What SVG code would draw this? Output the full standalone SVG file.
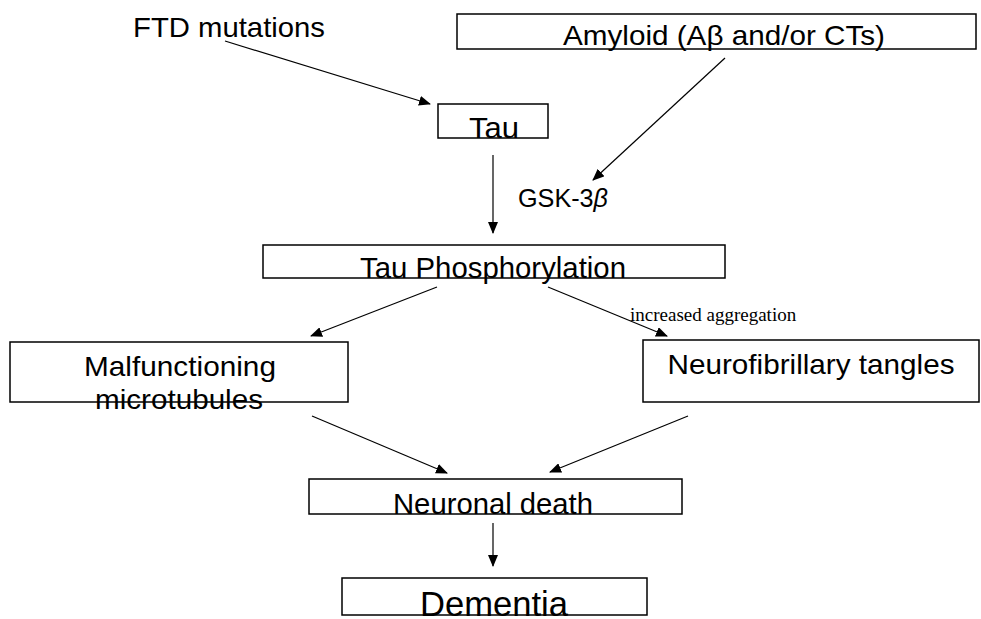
<svg xmlns="http://www.w3.org/2000/svg" width="981" height="619" viewBox="0 0 981 619">
<defs>
<marker id="ah" markerWidth="12" markerHeight="10" refX="11" refY="5" orient="auto" markerUnits="userSpaceOnUse">
<path d="M0,0 L12,5 L0,10 z" fill="#000"/>
</marker>
<style>
.box{fill:#fff;stroke:#000;stroke-width:1.5}
.t{font-family:"Liberation Sans",Arial,sans-serif;fill:#000;text-anchor:middle}
.s{font-family:"Liberation Sans",Arial,sans-serif;fill:#000;text-anchor:start}
.c{stroke:#000;stroke-width:1.2;fill:none;marker-end:url(#ah)}
</style>
</defs>
<rect width="981" height="619" fill="#fff"/>
<g id="connectors">
<line class="c" x1="225" y1="41" x2="430" y2="104"/>
<line class="c" x1="725" y1="58" x2="593" y2="180"/>
<line class="c" x1="493" y1="155" x2="493" y2="233"/>
<line class="c" x1="437" y1="287" x2="311" y2="336"/>
<line class="c" x1="548" y1="287" x2="667" y2="336"/>
<line class="c" x1="312" y1="416" x2="447" y2="473"/>
<line class="c" x1="688" y1="416" x2="550" y2="472"/>
<line class="c" x1="493" y1="523" x2="493" y2="566"/>
</g>
<g id="ftd"><text class="s" x="133" y="37" font-size="28" textLength="192" lengthAdjust="spacingAndGlyphs">FTD mutations</text></g>
<g id="amyloid"><rect class="box" x="457" y="14" width="519" height="35"/><text class="s" x="563" y="45" font-size="28" textLength="322" lengthAdjust="spacingAndGlyphs">Amyloid (Aβ and/or CTs)</text></g>
<g id="tau"><rect class="box" x="438" y="104" width="110" height="34"/><text class="t" x="494" y="138" font-size="29" textLength="50" lengthAdjust="spacingAndGlyphs">Tau</text></g>
<g id="gsk"><text class="s" x="518" y="207" font-size="25" textLength="90" lengthAdjust="spacingAndGlyphs">GSK-3<tspan font-style="italic">β</tspan></text></g>
<g id="phos"><rect class="box" x="263" y="245" width="462" height="33"/><text class="t" x="493" y="278" font-size="29" textLength="266" lengthAdjust="spacingAndGlyphs">Tau Phosphorylation</text></g>
<g id="agglabel"><text x="630" y="321" font-family="Liberation Serif,serif" font-size="19">increased aggregation</text></g>
<g id="malf"><rect class="box" x="10" y="342" width="338" height="60"/><text class="t" x="180" y="376" font-size="28" textLength="192" lengthAdjust="spacingAndGlyphs">Malfunctioning</text><text class="t" x="179" y="409" font-size="28" textLength="168" lengthAdjust="spacingAndGlyphs">microtubules</text></g>
<g id="nft"><rect class="box" x="643" y="340" width="336" height="62"/><text class="t" x="811" y="374" font-size="28" textLength="287" lengthAdjust="spacingAndGlyphs">Neurofibrillary tangles</text></g>
<g id="death"><rect class="box" x="309" y="479" width="373" height="35"/><text class="t" x="493" y="514" font-size="29" textLength="200" lengthAdjust="spacingAndGlyphs">Neuronal death</text></g>
<g id="dementia"><rect class="box" x="342" y="578" width="305" height="37"/><text class="s" x="420" y="616" font-size="35" textLength="148" lengthAdjust="spacingAndGlyphs">Dementia</text></g>
</svg>
